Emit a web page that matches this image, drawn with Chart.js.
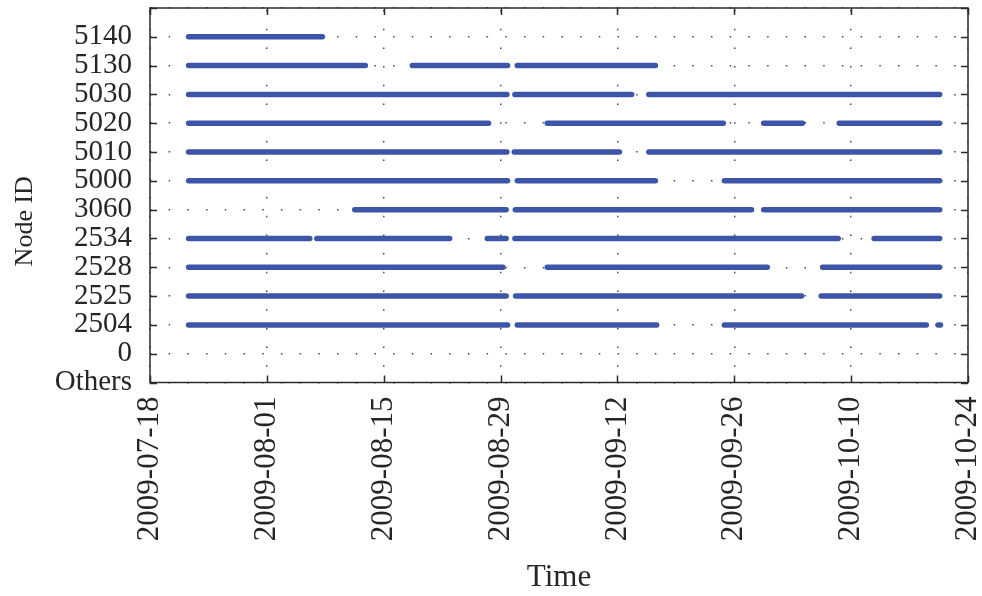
<!DOCTYPE html>
<html>
<head>
<meta charset="utf-8">
<script src="https://cdn.jsdelivr.net/npm/chart.js@4.4.1/dist/chart.umd.min.js"></script>
<style>
  html, body { margin: 0; padding: 0; background: #fff; }
  #wrap { width: 982px; height: 596px; }
</style>
</head>
<body>
<div id="wrap"><canvas id="c" width="982" height="596"></canvas></div>
<script>
// Node IDs on the vertical axis, bottom to top
const nodeIds = ['Others', '0', '2504', '2525', '2528', '2534', '3060', '5000', '5010', '5020', '5030', '5130', '5140'];

// Date ticks on the time axis
const timeTicks = ['2009-07-18', '2009-08-01', '2009-08-15', '2009-08-29', '2009-09-12', '2009-09-26', '2009-10-10', '2009-10-24'];

// Activity periods of each node: [start, end]
const node5140 = [['2009-07-22 15:00', '2009-08-07 15:40']];
const node5130 = [['2009-07-22 15:00', '2009-08-12 19:10'], ['2009-08-18 10:20', '2009-08-29 20:10'], ['2009-08-31 00:00', '2009-09-16 13:10']];
const node5030 = [['2009-07-22 15:00', '2009-08-29 18:10'], ['2009-08-30 17:15', '2009-09-13 17:00'], ['2009-09-15 18:15', '2009-10-20 14:40']];
const node5020 = [['2009-07-22 15:00', '2009-08-27 13:30'], ['2009-09-03 14:10', '2009-09-24 16:30'], ['2009-09-29 12:30', '2009-10-04 04:00'], ['2009-10-08 13:40', '2009-10-20 14:40']];
const node5010 = [['2009-07-22 15:00', '2009-08-29 18:10'], ['2009-08-30 15:20', '2009-09-12 05:45'], ['2009-09-15 18:15', '2009-10-20 14:40']];
const node5000 = [['2009-07-22 15:00', '2009-08-29 20:10'], ['2009-08-31 00:00', '2009-09-16 13:10'], ['2009-09-24 19:25', '2009-10-20 14:40']];
const node3060 = [['2009-08-11 12:45', '2009-08-29 16:05'], ['2009-08-30 18:15', '2009-09-28 01:40'], ['2009-09-29 12:30', '2009-10-20 14:40']];
const node2534 = [['2009-07-22 15:00', '2009-08-06 03:35'], ['2009-08-06 23:30', '2009-08-22 21:35'], ['2009-08-27 09:50', '2009-08-29 16:05'], ['2009-08-30 17:15', '2009-10-08 10:50'], ['2009-10-12 18:00', '2009-10-20 14:40']];
const node2528 = [['2009-07-22 15:00', '2009-08-29 06:40'], ['2009-09-03 14:10', '2009-09-29 22:50'], ['2009-10-06 14:00', '2009-10-20 14:40']];
const node2525 = [['2009-07-22 15:00', '2009-08-29 16:05'], ['2009-08-30 19:10', '2009-10-04 01:25'], ['2009-10-06 09:50', '2009-10-20 14:40']];
const node2504 = [['2009-07-22 15:00', '2009-08-29 20:10'], ['2009-08-31 00:00', '2009-09-16 16:50'], ['2009-09-24 19:25', '2009-10-19 00:15'], ['2009-10-20 10:00', '2009-10-20 17:00']];
const node0 = [];
const nodeOthers = [];

const periods = {
  'Others': nodeOthers, '0': node0, '2504': node2504, '2525': node2525, '2528': node2528,
  '2534': node2534, '3060': node3060, '5000': node5000, '5010': node5010, '5020': node5020,
  '5030': node5030, '5130': node5130, '5140': node5140
};

const toMs = s => Date.parse(s.replace(' ', 'T') + (s.length > 10 ? ':00Z' : 'T00:00:00Z'));
const pad2 = n => String(n).padStart(2, '0');
const fmtDate = v => { const d = new Date(v); return d.getUTCFullYear() + '-' + pad2(d.getUTCMonth() + 1) + '-' + pad2(d.getUTCDate()); };

const BLUE = '#3d55a6';
const TEXT = '#262626';
const GRID = '#4a4a4a';
const FAMILY = "'Liberation Serif', 'Times New Roman', serif";

// one line dataset per node, segments separated by null points
const datasets = nodeIds.map((id, row) => {
  const data = [];
  periods[id].forEach(([a, b]) => {
    const ta = toMs(a), tb = toMs(b);
    data.push({ x: ta, y: row }, { x: tb, y: row }, { x: tb, y: null });
  });
  return {
    label: id, data, borderColor: BLUE, backgroundColor: BLUE, borderWidth: 5.5,
    borderCapStyle: 'round', pointRadius: 0, spanGaps: false, tension: 0
  };
});

// box around the plot with inward tick marks on all four sides
const framePlugin = {
  id: 'frame',
  afterDraw(chart) {
    const { ctx, chartArea: { left, right, top, bottom }, scales: { x, y } } = chart;
    const L = 7;
    ctx.save();
    ctx.strokeStyle = '#2b2b2b';
    ctx.lineWidth = 1.5;
    ctx.beginPath();
    x.ticks.forEach(t => {
      const px = Math.round(x.getPixelForValue(t.value)) + 0.5;
      ctx.moveTo(px, bottom); ctx.lineTo(px, bottom - L);
      ctx.moveTo(px, top); ctx.lineTo(px, top + L);
    });
    y.ticks.forEach(t => {
      const py = Math.round(y.getPixelForValue(t.value)) + 0.5;
      ctx.moveTo(left, py); ctx.lineTo(left + L, py);
      ctx.moveTo(right, py); ctx.lineTo(right - L, py);
    });
    ctx.stroke();
    ctx.strokeRect(left, top, right - left, bottom - top);
    ctx.restore();
  }
};

new Chart(document.getElementById('c'), {
  type: 'line',
  data: { datasets },
  plugins: [framePlugin],
  options: {
    responsive: false,
    animation: false,
    layout: { padding: { left: 0, right: 14, top: 8, bottom: 0 } },
    plugins: { legend: { display: false }, tooltip: { enabled: false } },
    scales: {
      x: {
        type: 'linear',
        min: toMs(timeTicks[0]),
        max: toMs(timeTicks[timeTicks.length - 1]),
        afterBuildTicks: s => { s.ticks = timeTicks.map(t => ({ value: toMs(t) })); },
        afterFit: s => { s.height = 213.5; s.paddingLeft = 0; s.paddingRight = 0; },
        ticks: {
          autoSkip: false, minRotation: 90, maxRotation: 90, padding: 14,
          color: TEXT, font: { family: FAMILY, size: 31 },
          callback: v => fmtDate(v)
        },
        grid: { color: GRID, lineWidth: 1.5, drawTicks: false },
        border: { display: false, dash: [1.5, 17.2], dashOffset: -2 },
        title: { display: true, text: 'Time', color: TEXT, font: { family: FAMILY, size: 31 }, padding: { top: 0, bottom: 0 } }
      },
      y: {
        type: 'linear',
        min: 0,
        max: nodeIds.length,
        afterBuildTicks: s => { s.ticks = nodeIds.map((_, i) => ({ value: i })).concat([{ value: nodeIds.length }]); },
        afterFit: s => { s.width = 150; s.paddingTop = 0; s.paddingBottom = 0; },
        ticks: {
          autoSkip: false, padding: 18, color: TEXT, font: { family: FAMILY, size: 29 },
          callback: v => (nodeIds[v] !== undefined ? nodeIds[v] : '')
        },
        grid: { color: GRID, lineWidth: 1.5, drawTicks: false },
        border: { display: false, dash: [1.5, 17.2] },
        title: { display: true, text: 'Node ID        ', color: TEXT, font: { family: FAMILY, size: 26 }, padding: { top: 10, bottom: 0 } }
      }
    }
  }
});
</script>
</body>
</html>
